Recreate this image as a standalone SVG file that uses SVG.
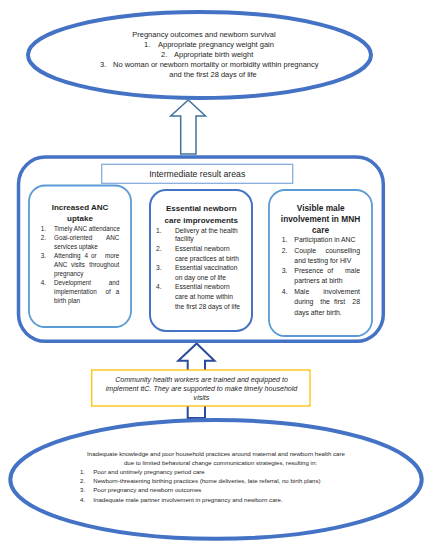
<svg xmlns="http://www.w3.org/2000/svg" width="434" height="550" viewBox="0 0 434 550">
<style>
  text { font-family: "Liberation Sans", Arial, sans-serif; fill: #1e1e1e; }
  .big { fill: #fff; stroke: #4472C4; stroke-width: 4; }
  .outer { fill: #fff; stroke: #4472C4; stroke-width: 3.5; }
  .inlt { fill: #fff; stroke: #5B9BD5; stroke-width: 1.8; }
  .indk { fill: #fff; stroke: #4472C4; stroke-width: 2; }
  .hdr { fill: #fff; stroke: #7FA7DC; stroke-width: 1.2; }
  .note { fill: #fff; stroke: #FFC000; stroke-width: 1.3; }
  .t1 { font-size: 7.5px; }
  .tb { font-size: 6.1px; }
  .h { font-size: 8.7px; }
  .b1 { font-size: 6.3px; }
  .b2 { font-size: 6.7px; }
  .b3 { font-size: 6.9px; }
  .ti { font-weight: bold; text-anchor: middle; }
  .it { font-size: 7.1px; font-style: italic; text-anchor: middle; }
  .mid { text-anchor: middle; }
  .end { text-anchor: end; }
</style>
<rect width="434" height="550" fill="#fff"/>
<g id="connectors">
  <polygon id="arrow1" points="188.3,100 205.5,116 196,116 196,154 180.7,154 180.7,116 170.7,116" fill="#fff" stroke="#41719C" stroke-width="1.5" stroke-linejoin="miter"/>
  <polygon id="arrow2" points="196.7,343.5 214.5,360.7 205,360.7 205,418 187.7,418 187.7,360.7 178.3,360.7" fill="#fff" stroke="#2A4B9B" stroke-width="2" stroke-linejoin="miter"/>
</g>
<g id="outcomes">
  <ellipse class="big" cx="199.5" cy="55" rx="171.5" ry="43"/>
  <text class="t1 mid" x="204" y="37">Pregnancy outcomes and newborn survival</text>
  <text class="t1" x="144" y="47">1.</text><text class="t1" x="158" y="47">Appropriate pregnancy weight gain</text>
  <text class="t1" x="161" y="57">2.</text><text class="t1" x="174" y="57">Appropriate birth weight</text>
  <text class="t1" x="100" y="67">3.</text><text class="t1" x="113" y="67">No woman or newborn mortality or morbidity within pregnancy</text>
  <text class="t1 mid" x="213" y="77">and the first 28 days of life</text>
</g>
<g id="intermediate">
  <rect class="outer" x="18.5" y="157" width="364.8" height="184.3" rx="27" ry="27"/>
  <rect class="hdr" x="101.7" y="164.3" width="191" height="19"/>
  <text class="h mid" x="197.2" y="177">Intermediate result areas</text>
</g>
<g id="anc">
  <rect class="inlt" x="29" y="185.5" width="102" height="141.5" rx="16" ry="16"/>
  <text class="ti" x="80" y="209.8" font-size="8px">Increased ANC</text>
  <text class="ti" x="80" y="221.4" font-size="8px">uptake</text>
  <g class="b1">
    <text x="40.7" y="230.5">1.</text><text x="54" y="230.5">Timely ANC attendance</text>
    <text x="40.7" y="239.5">2.</text><text x="54" y="239.5">Goal-oriented</text><text class="end" x="119.3" y="239.5">ANC</text>
    <text x="54" y="248.5">services uptake</text>
    <text x="40.7" y="258">3.</text><text x="54" y="258">Attending</text><text x="84.5" y="258">4</text><text x="91" y="258">or</text><text class="end" x="119.3" y="258">more</text>
    <text x="54" y="266.5">ANC</text><text x="71" y="266.5">visits</text><text class="end" x="119.3" y="266.5">throughout</text>
    <text x="54" y="275.5">pregnancy</text>
    <text x="40.7" y="285">4.</text><text x="54" y="285">Development</text><text class="end" x="119.3" y="285">and</text>
    <text x="54" y="294">implementation</text><text x="105.5" y="294">of</text><text class="end" x="119.3" y="294">a</text>
    <text x="54" y="303">birth plan</text>
  </g>
</g>
<g id="newborn">
  <rect class="indk" x="150" y="190" width="102" height="141" rx="16" ry="16"/>
  <text class="ti" x="201.3" y="211.2" font-size="8px">Essential newborn</text>
  <text class="ti" x="201.3" y="223" font-size="8px">care improvements</text>
  <g class="b2">
    <text x="156" y="232.7">1.</text><text x="175" y="232.7">Delivery at the health</text>
    <text x="175" y="241.4">facility</text>
    <text x="156" y="251.1">2.</text><text x="175" y="251.1">Essential newborn</text>
    <text x="175" y="260.7">care practices at birth</text>
    <text x="156" y="270.4">3.</text><text x="175" y="270.4">Essential vaccination</text>
    <text x="175" y="279.7">on day one of life</text>
    <text x="156" y="289.4">4.</text><text x="175" y="289.4">Essential newborn</text>
    <text x="175" y="299.1">care at home within</text>
    <text x="175" y="308.7">the first 28 days of life</text>
  </g>
</g>
<g id="male">
  <rect class="inlt" x="269" y="190" width="103" height="146" rx="16" ry="16"/>
  <text class="ti" x="320.7" y="211.3" font-size="8.3px">Visible male</text>
  <text class="ti" x="320.5" y="222.3" font-size="8.3px">involvement in MNH</text>
  <text class="ti" x="320.5" y="233" font-size="8.3px">care</text>
  <g class="b3">
    <text x="281.7" y="242.4">1.</text><text x="294.3" y="242.4">Participation in ANC</text>
    <text x="281.7" y="252.7">2.</text><text x="294.3" y="252.7">Couple</text><text class="end" x="360" y="252.7">counselling</text>
    <text x="294.3" y="263.1">and testing for HIV</text>
    <text x="281.7" y="273.4">3.</text><text x="294.3" y="273.4">Presence</text><text x="327.3" y="273.4">of</text><text class="end" x="360" y="273.4">male</text>
    <text x="294.3" y="283.4">partners at birth</text>
    <text x="281.7" y="294.1">4.</text><text x="294.3" y="294.1">Male</text><text class="end" x="360" y="294.1">involvement</text>
    <text x="294.3" y="304.4">during</text><text x="320.3" y="304.4">the</text><text x="334" y="304.4">first</text><text class="end" x="360" y="304.4">28</text>
    <text x="294.3" y="315.1">days after birth.</text>
  </g>
</g>
<g id="chw">
  <rect class="note" x="91.7" y="370" width="218.3" height="36"/>
  <text class="it" x="201.5" y="381.5">Community health workers are trained and equipped to</text>
  <text class="it" x="201.5" y="390.8">implement ttC. They are supported to make timely household</text>
  <text class="it" x="201.5" y="400">visits</text>
</g>
<g id="problem">
  <ellipse class="big" cx="216" cy="479.4" rx="205.7" ry="59.4"/>
  <text class="tb mid" x="216" y="456.4">Inadequate knowledge and poor household practices around maternal and newborn health care</text>
  <text class="tb mid" x="220.5" y="464.8">due to limited behavioral change communication strategies, resulting in:</text>
  <text class="tb" x="80" y="473.8">1.</text><text class="tb" x="93.3" y="473.8">Poor and untimely pregnancy period care</text>
  <text class="tb" x="80" y="483.1">2.</text><text class="tb" x="93.3" y="483.1">Newborn-threatening birthing practices (home deliveries, late referral, no birth plans)</text>
  <text class="tb" x="80" y="492.4">3.</text><text class="tb" x="93.3" y="492.4">Poor pregnancy and newborn outcomes</text>
  <text class="tb" x="80" y="501.8">4.</text><text class="tb" x="93.3" y="501.8">Inadequate male partner involvement in pregnancy and newborn care.</text>
</g>
</svg>
